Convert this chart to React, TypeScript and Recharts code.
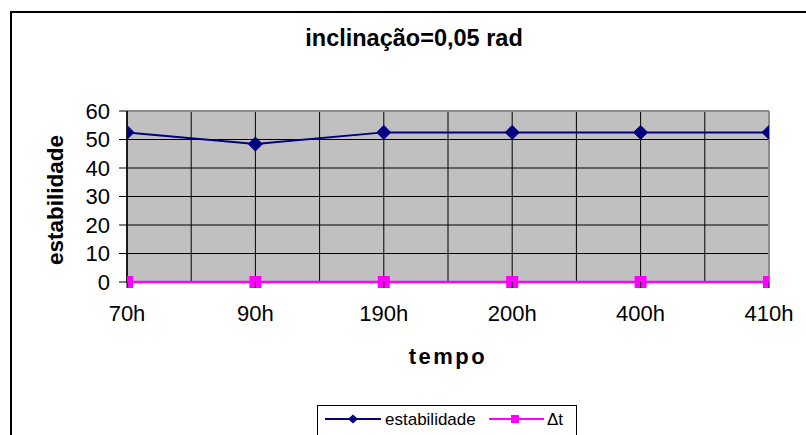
import React from "react";
import {
  LineChart,
  Line,
  XAxis,
  YAxis,
  CartesianGrid,
  ReferenceLine,
} from "recharts";

const categories = ["70h", "90h", "190h", "200h", "400h", "410h"];
const estabilidade = [52.5, 48.4, 52.5, 52.5, 52.5, 52.5];
const deltaT = [0, 0, 0, 0, 0, 0];
const yTicks = [0, 10, 20, 30, 40, 50, 60];
// category positions plus the half-way gridlines between them
const xGridTicks = [0, 0.5, 1, 1.5, 2, 2.5, 3, 3.5, 4, 4.5, 5];

const data = categories.map((c, i) => ({
  idx: i,
  name: c,
  estabilidade: estabilidade[i],
  dt: deltaT[i],
}));

const FONT = "'Liberation Sans', Arial, sans-serif";
const NAVY = "#000080";
const MAGENTA = "#FF00FF";

const Diamond = (props: any) => {
  const { cx, cy } = props;
  if (cx == null || cy == null) return null;
  return (
    <polygon
      points={`${cx},${cy - 7} ${cx + 7},${cy} ${cx},${cy + 7} ${cx - 7},${cy}`}
      fill={NAVY}
      stroke={NAVY}
    />
  );
};

const Square = (props: any) => {
  const { cx, cy } = props;
  if (cx == null || cy == null) return null;
  return <rect x={cx - 6} y={cy - 6} width={12} height={12} fill={MAGENTA} />;
};

// Only whole positions get a label and a tick mark; half positions just carry gridlines
const XTick = (props: any) => {
  const { x, y, payload } = props;
  const v = payload.value;
  if (!Number.isInteger(v)) return null;
  return (
    <g>
      <line x1={x} y1={y} x2={x} y2={y + 6} stroke="#000" strokeWidth={1} />
      <text
        x={x}
        y={y + 39}
        textAnchor="middle"
        fontSize={22}
        fontFamily={FONT}
        fill="#000"
      >
        {categories[v]}
      </text>
    </g>
  );
};

const LegendBox = () => (
  <div
    style={{
      position: "absolute",
      left: 317,
      top: 405,
      width: 260,
      height: 40,
      border: "1px solid #000",
      background: "#fff",
      boxSizing: "border-box",
    }}
  >
    <svg width={260} height={40} style={{ position: "absolute", left: 0, top: 0 }}>
      <line x1={7} y1={13} x2={63} y2={13} stroke={NAVY} strokeWidth={2} />
      <polygon points="35,8.5 40,13 35,17.5 30,13" fill={NAVY} />
      <text x={67} y={19} fontSize={17} fontFamily={FONT} fill="#000">
        estabilidade
      </text>
      <line x1={171} y1={13} x2={226} y2={13} stroke={MAGENTA} strokeWidth={2} />
      <rect x={193} y={9} width={8} height={8} fill={MAGENTA} />
      <text x={229} y={19} fontSize={17} fontFamily={FONT} fill="#000">
        Δt
      </text>
    </svg>
  </div>
);

export default function App() {
  return (
    <div
      style={{
        position: "absolute",
        left: 0,
        top: 0,
        width: 806,
        height: 435,
        overflow: "hidden",
        background: "#fff",
      }}
    >
      <div
        style={{
          position: "absolute",
          left: 10,
          top: 11,
          width: 900,
          height: 600,
          borderLeft: "2px solid #000",
          borderTop: "2px solid #000",
        }}
      />
      <div style={{ position: "absolute", left: 0, top: 0 }}>
        <LineChart
          width={806}
          height={435}
          data={data}
          margin={{ top: 111, right: 37, bottom: 113, left: 67 }}
        >
          <CartesianGrid
            stroke="#000"
            strokeWidth={1}
            fill="#C0C0C0"
            fillOpacity={1}
          />
          <XAxis
            dataKey="idx"
            type="number"
            domain={[0, 5]}
            ticks={xGridTicks}
            interval={0}
            tick={<XTick />}
            tickLine={false}
            tickSize={0}
            tickMargin={0}
            axisLine={false}
            height={40}
            allowDataOverflow
          />
          <YAxis
            type="number"
            domain={[0, 60]}
            ticks={yTicks}
            interval={0}
            width={60}
            tickSize={8}
            tickMargin={9}
            tickLine={{ stroke: "#000" }}
            axisLine={{ stroke: "#000", strokeWidth: 1.5 }}
            tick={{ fontSize: 22, fill: "#000", fontFamily: FONT }}
          />
          <ReferenceLine y={60} stroke="#8C8C8C" strokeWidth={2} />
          <ReferenceLine x={5} stroke="#8C8C8C" strokeWidth={2} />
          <Line
            dataKey="dt"
            stroke={MAGENTA}
            strokeWidth={2.5}
            dot={<Square />}
            isAnimationActive={false}
          />
          <Line
            dataKey="estabilidade"
            stroke={NAVY}
            strokeWidth={2}
            dot={<Diamond />}
            isAnimationActive={false}
          />
        </LineChart>
      </div>
      <svg
        width={806}
        height={435}
        style={{ position: "absolute", left: 0, top: 0, pointerEvents: "none" }}
      >
        <text
          x={414}
          y={46}
          textAnchor="middle"
          fontSize={23.5}
          fontWeight="bold"
          fontFamily={FONT}
          fill="#000"
        >
          inclinação=0,05 rad
        </text>
        <text
          transform="translate(63,200) rotate(-90)"
          textAnchor="middle"
          fontSize={22.5}
          fontWeight="bold"
          fontFamily={FONT}
          fill="#000"
        >
          estabilidade
        </text>
        <text
          x={448}
          y={364}
          textAnchor="middle"
          fontSize={22}
          fontWeight="bold"
          letterSpacing={2.5}
          fontFamily={FONT}
          fill="#000"
        >
          tempo
        </text>
      </svg>
      <LegendBox />
    </div>
  );
}
